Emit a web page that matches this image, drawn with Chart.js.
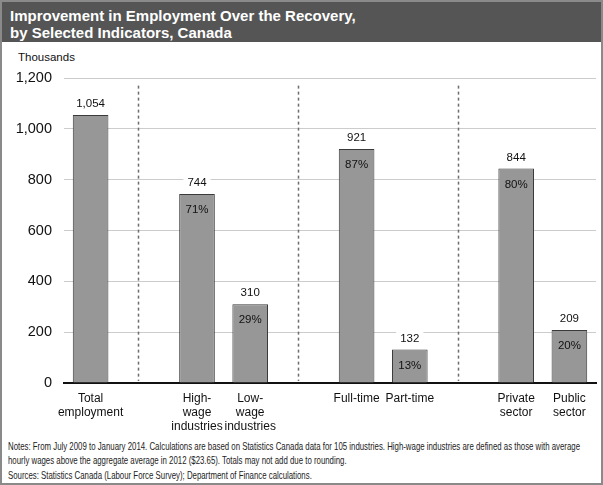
<!DOCTYPE html>
<html>
<head>
<meta charset="utf-8">
<script src="https://cdn.jsdelivr.net/npm/chart.js@4"></script>
<style>
  html, body { margin: 0; padding: 0; background: #fff; }
  #frame {
    position: relative; width: 599px; height: 481px;
    border: 2px solid #8a8a8a; overflow: hidden;
    font-family: Arial, "Liberation Sans", sans-serif;
  }
  #title {
    position: absolute; left: 0; top: 0; width: 599px; height: 40px;
    background: #555555; color: #fff; font-weight: bold; font-size: 15px;
    line-height: 17px; padding: 5px 0 0 8px; box-sizing: border-box;
  }
  #unit { position: absolute; left: 16px; top: 49px; font-size: 11.5px; color: #111; }
  #wrap { position: absolute; left: 1px; top: 41px; width: 596px; height: 392px; }
  .note {
    position: absolute; left: 6px; white-space: nowrap;
    font-family: Arial, sans-serif; font-size: 10.5px; line-height: 12px; color: #222;
    transform-origin: 0 0;
  }
</style>
</head>
<body>
<div id="frame">
  <div id="title">Improvement in Employment Over the Recovery,<br>by Selected Indicators, Canada</div>
  <div id="unit">Thousands</div>
  <div id="wrap"><canvas id="chart" width="596" height="392"></canvas></div>
  <div class="note" style="top:438px">Notes: From July 2009 to January 2014. Calculations are based on Statistics Canada data for 105 industries. High-wage industries are defined as those with average</div>
  <div class="note" style="top:452px">hourly wages above the aggregate average in 2012 ($23.65). Totals may not add due to rounding.</div>
  <div class="note" style="top:467px">Sources: Statistics Canada (Labour Force Survey); Department of Finance calculations.</div>
</div>
<script>
const categories = [
  ['Total', 'employment'], '',
  ['High-', 'wage', 'industries'], ['Low-', 'wage', 'industries'], '',
  'Full-time', 'Part-time', '',
  ['Private', 'sector'], ['Public', 'sector']
];
const employment = [1054, null, 744, 310, null, 921, 132, null, 844, 209];
const shares = [null, null, 71, 29, null, 87, 13, null, 80, 20];
const separators = [1, 4, 7];
const yTicks = [0, 200, 400, 600, 800, 1000, 1200];

// squeeze the notes so they look like the narrow face of the original
const first = document.querySelector('.note');
const k = 572 / first.getBoundingClientRect().width;
document.querySelectorAll('.note').forEach(n => { n.style.transform = 'scaleX(' + k + ')'; });

const barLabels = {
  id: 'barLabels',
  afterDatasetsDraw(chart) {
    const ctx = chart.ctx;
    const meta = chart.getDatasetMeta(0);
    ctx.save();
    ctx.font = '11.5px Arial';
    ctx.textAlign = 'center';
    ctx.textBaseline = 'middle';
    meta.data.forEach((bar, i) => {
      const v = employment[i];
      if (v == null) return;
      const txt = v.toLocaleString('en-US');
      const w = ctx.measureText(txt).width + 8;
      const y = bar.y - 11;
      ctx.fillStyle = '#fff';
      ctx.fillRect(bar.x - w / 2, y - 7, w, 14);
      ctx.fillStyle = '#111';
      ctx.fillText(txt, bar.x, y);
      if (shares[i] != null) {
        ctx.fillText(shares[i] + '%', bar.x, bar.y + 16);
      }
    });
    ctx.restore();
  }
};

const dividers = {
  id: 'dividers',
  beforeDatasetsDraw(chart) {
    const ctx = chart.ctx;
    const x = chart.scales.x;
    const y = chart.scales.y;
    const step = x.getPixelForValue(1) - x.getPixelForValue(0);
    ctx.save();
    ctx.strokeStyle = '#6e6e6e';
    ctx.lineWidth = 1.5;
    ctx.setLineDash([3, 3]);
    separators.forEach(idx => {
      const px = Math.round(x.getPixelForValue(idx) - step * 0.1) + 0.5;
      ctx.beginPath();
      ctx.moveTo(px, y.getPixelForValue(1170));
      ctx.lineTo(px, y.getPixelForValue(0) - 2);
      ctx.stroke();
    });
    ctx.restore();
  }
};

new Chart(document.getElementById('chart').getContext('2d'), {
  type: 'bar',
  data: {
    labels: categories,
    datasets: [{
      data: employment,
      backgroundColor: '#979797',
      borderColor: '#3a3a3a',
      borderWidth: 1,
      barPercentage: 0.67,
      categoryPercentage: 1
    }]
  },
  options: {
    responsive: false,
    animation: false,
    layout: { padding: { top: 35, right: 3, left: 0, bottom: 0 } },
    plugins: { legend: { display: false }, tooltip: { enabled: false } },
    scales: {
      x: {
        grid: { display: false, drawTicks: false },
        border: { display: true, color: '#111', width: 2 },
        ticks: { color: '#111', font: { family: 'Arial', size: 12 }, padding: 8, maxRotation: 0, autoSkip: false },
        afterFit(s) { s.height = 52; }
      },
      y: {
        min: 0, max: 1200,
        afterBuildTicks(s) { s.ticks = yTicks.map(v => ({ value: v })); },
        grid: { color: '#cccccc', lineWidth: 1, drawTicks: false },
        border: { display: false },
        ticks: {
          color: '#111', font: { family: 'Arial', size: 14.5 }, padding: 12,
          callback: v => v.toLocaleString('en-US')
        },
        afterFit(s) { s.width = 61; }
      }
    }
  },
  plugins: [dividers, barLabels]
});
</script>
</body>
</html>
